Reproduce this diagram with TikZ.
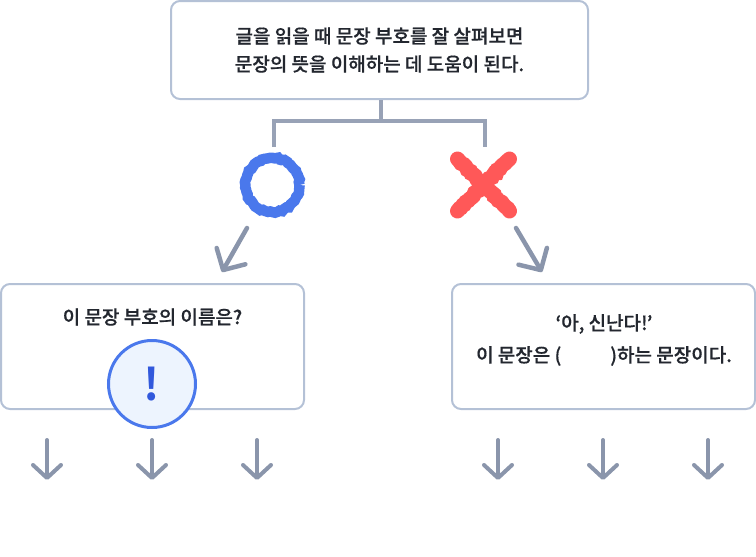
\documentclass[tikz,border=0pt]{standalone}
\usepackage{fontspec}
\usepackage{tikz}
\usetikzlibrary{positioning,arrows.meta,shapes.misc,decorations.pathmorphing}
\setmainfont{Noto Sans CJK KR Medium}[FakeBold=0.5]
\newfontfamily\markfont{Noto Sans CJK KR Bold}
\definecolor{boxline}{HTML}{B4C1D6}
\definecolor{linkgray}{HTML}{98A2B6}
\definecolor{arrowgray}{HTML}{8A95AB}
\definecolor{inkdark}{HTML}{23272F}
\definecolor{okblue}{HTML}{4A78EC}
\definecolor{nored}{HTML}{FF5858}
\definecolor{hintfill}{HTML}{EDF4FE}
\definecolor{hintmark}{HTML}{3158DC}
\begin{document}
\begin{tikzpicture}[x=1pt, y=-1pt,
  main/.style = {draw=boxline, line width=2pt, rounded corners=9pt, fill=white, inner sep=0pt},
  txt/.style = {text=inkdark, font=\fontsize{19}{32}\selectfont, align=center, inner sep=0pt},
  link/.style = {draw=linkgray, line width=4.5pt},
  rough/.style = {decorate, decoration={random steps, segment length=2.5pt, amplitude=0.8pt}},
  go/.style = {draw=arrowgray, line width=4pt, line cap=round, -{Straight Barb[round, length=13pt, width=28pt]}},
  bigo/.style = {draw=arrowgray, line width=4.5pt, line cap=round, -{Straight Barb[round, length=16pt, width=33pt]}}]
\useasboundingbox (0,0) rectangle (756,557);
\node[main, txt, font=\fontsize{19}{28}\selectfont, minimum width=417pt, minimum height=98pt] (top) at (379.5,50) {글을 읽을 때 문장 부호를 잘 살펴보면\\문장의 뜻을 이해하는 데 도움이 된다.};
\node[main, minimum width=303pt, minimum height=125pt] (quiz) at (152.5,346.5) {};
\node[main, minimum width=303pt, minimum height=125pt] (blank) [right of=quiz, xshift=451pt, node distance=0pt] {};
\node[txt] (quiztext) at (152.5,317) {이 문장 부호의 이름은?};
\node[txt] (blanktext) at (604,340) {‘아, 신난다!’\\이 문장은 (\hspace{49pt})하는 문장이다.};
\node[circle, draw=okblue, line width=3pt, fill=hintfill, minimum size=87pt, inner sep=0pt, text=hintmark, font=\markfont\fontsize{44}{44}\selectfont] (hint) at (152,384) {!};
% marks
\node[circle, draw=okblue, line width=10.5pt, minimum size=54pt, inner sep=0pt, rough] (yes) at (272.5,185) {};
\node[cross out, draw=nored, line width=15pt, line cap=round, minimum size=37pt, inner sep=0pt, rough] (no) at (483.5,185) {};
% tree
\coordinate (mid) at (381,121);
\coordinate (yesend) at (274,147);
\coordinate (noend) at (485,147);
\draw[link] (top.south -| mid) -- (mid);
\draw[link] (yesend) |- (noend |- mid) -- (noend);
% big arrows
\coordinate (yesa) at (247,228);
\coordinate (yesb) at (222,272);
\coordinate (noa) at (516,228);
\coordinate (nob) at (542,272);
\draw[bigo] (yesa) -- (yesb);
\draw[bigo] (noa) -- (nob);
% small arrows
\foreach \i/\xx in {1/47,2/152,3/257,4/498,5/603,6/708} {
  \coordinate (s\i) at (\xx,440);
  \coordinate (e\i) at (\xx,480);
  \draw[go] (s\i) -- (e\i);
}
\end{tikzpicture}
\end{document}
